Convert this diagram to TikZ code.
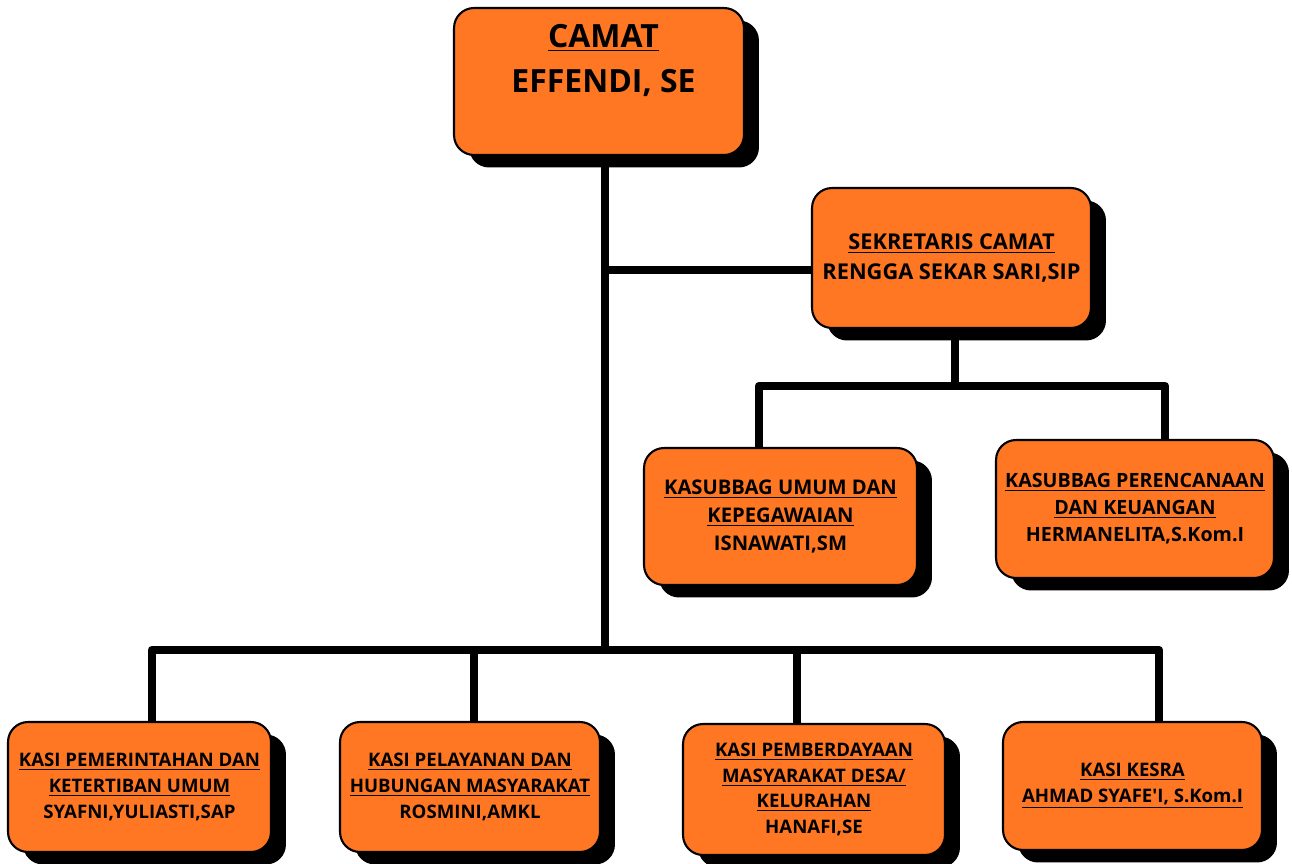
\documentclass[tikz,border=0pt]{standalone}
\usepackage{fontspec}
\setmainfont{Open Sans}
\usetikzlibrary{shadows}
\definecolor{oranye}{HTML}{FF7722}

\begin{document}
\begin{tikzpicture}[x=0.02cm, y=-0.02cm,
		kotak/.style={draw=black, line width=1.2pt, fill=oranye, rounded corners=0.4cm, align=center,
			font=\fontsize{10.6}{14.6}\selectfont\bfseries,
			drop shadow={shadow xshift=0.3cm, shadow yshift=-0.25cm, fill=black, opacity=1}},
		garis/.style={line width=5pt, line join=round}]
			\useasboundingbox (0,0) rectangle (1292,863);
			%%% Camat
			\node[kotak, minimum width=5.8cm, minimum height=2.94cm] (camat) at (599,81.5) {};
			\node[font=\fontsize{18.2}{25.5}\selectfont\bfseries, align=center] (camattxt) at ([xshift=0.09cm, yshift=0.42cm]camat.center) {\underline{CAMAT}\\EFFENDI, SE};
			%%% Sekretaris
			\node[kotak, minimum width=5.58cm, minimum height=2.8cm, font=\fontsize{12.4}{17}\selectfont\bfseries] (sek) at (951.5,258) {\underline{SEKRETARIS CAMAT}\\RENGGA SEKAR SARI,SIP};
			%%% Kasubbag
			\node[kotak, minimum width=5.46cm, minimum height=2.74cm, font=\fontsize{11.5}{16}\selectfont\bfseries] (umum) at (780.5,516.5) {\underline{KASUBBAG UMUM DAN}\\\underline{KEPEGAWAIAN}\\ISNAWATI,SM};
			\node[kotak, minimum width=5.56cm, minimum height=2.76cm, font=\fontsize{11.2}{15.3}\selectfont\bfseries] (renc) at (1135,509) {\underline{KASUBBAG PERENCANAAN}\\\underline{DAN KEUANGAN}\\HERMANELITA,S.Kom.I};
			%%% Kasi
			\node[kotak, minimum width=5.26cm, minimum height=2.6cm] (kasi1) at (139.5,787) {\underline{KASI PEMERINTAHAN DAN}\\\underline{KETERTIBAN UMUM}\\SYAFNI,YULIASTI,SAP};
			\node[kotak, minimum width=5.2cm, minimum height=2.6cm] (kasi2) at (470,787) {\underline{KASI PELAYANAN DAN}\\\underline{HUBUNGAN MASYARAKAT}\\ROSMINI,AMKL};
			\node[kotak, minimum width=5.24cm, minimum height=2.62cm] (kasi3) at (814,789.5) {\underline{KASI PEMBERDAYAAN}\\\underline{MASYARAKAT DESA/}\\\underline{KELURAHAN}\\HANAFI,SE};
			\node[kotak, minimum width=5.18cm, minimum height=2.56cm] (kasi4) at (1132.5,786) {\underline{KASI KESRA}\\\underline{AHMAD SYAFE\textquotesingle I, S.Kom.I}};
			%%% Titik garis
			\coordinate (tengah) at (605,650);
			\coordinate (cabang) at (605,270);
			\coordinate (sub) at (955,386);
			\coordinate (subkiri) at (759,386);
			\coordinate (subkanan) at (1165,386);
			\coordinate (b1) at (152,650);
			\coordinate (b2) at (474,650);
			\coordinate (b3) at (797,650);
			\coordinate (b4) at (1159,650);
			%%% Garis
			\draw[garis] (camat.south -| tengah) -- (tengah);
			\draw[garis] (cabang) -- (cabang -| sek.west);
			\draw[garis] (sek.south -| sub) -- (sub);
			\draw[garis] (umum.north -| subkiri) -- (subkiri) -- (subkanan) -- (renc.north -| subkanan);
			\draw[garis] (kasi1.north -| b1) -- (b1) -- (b4) -- (kasi4.north -| b4);
			\foreach \k/\b in {kasi2/b2, kasi3/b3}
			\draw[garis] (\b) -- (\k.north -| \b);
		\end{tikzpicture}
\end{document}
